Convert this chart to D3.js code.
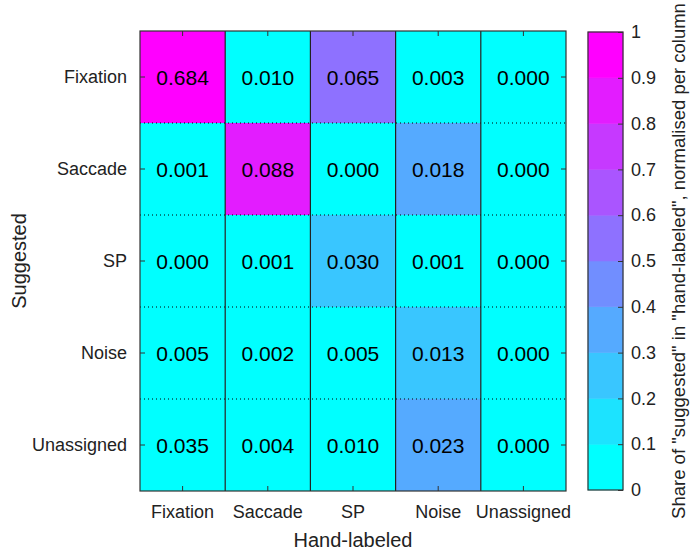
<!DOCTYPE html>
<html>
<head>
<meta charset="utf-8">
<script src="https://cdn.jsdelivr.net/npm/d3@7"></script>
<style>
  html, body { margin: 0; padding: 0; background: #fff; }
  svg { display: block; font-family: "Liberation Sans", Arial, Helvetica, sans-serif; }
</style>
</head>
<body>
<svg id="chart" width="691" height="551"></svg>
<script>
// Category names (same for both axes)
const categories = ["Fixation", "Saccade", "SP", "Noise", "Unassigned"];
// Rows = suggested class, columns = hand-labeled class
const fixationRow   = [0.684, 0.010, 0.065, 0.003, 0.000];
const saccadeRow    = [0.001, 0.088, 0.000, 0.018, 0.000];
const spRow         = [0.000, 0.001, 0.030, 0.001, 0.000];
const noiseRow      = [0.005, 0.002, 0.005, 0.013, 0.000];
const unassignedRow = [0.035, 0.004, 0.010, 0.023, 0.000];
const matrix = [fixationRow, saccadeRow, spRow, noiseRow, unassignedRow];
const colorbarTicks = [0, 0.1, 0.2, 0.3, 0.4, 0.5, 0.6, 0.7, 0.8, 0.9, 1];

const xTitle = "Hand-labeled";
const yTitle = "Suggested";
const cbTitle = 'Share of "suggested" in "hand-labeled", normalised per column';

const svg = d3.select("#chart");
const plot = { left: 140, top: 31, right: 566, bottom: 491 };
const cb = { left: 588, right: 623, top: 32, bottom: 490 };

const x = d3.scaleBand().domain(categories).range([plot.left, plot.right]);
const y = d3.scaleBand().domain(categories).range([plot.top, plot.bottom]);

// 10-step palette from cyan to magenta
const nLevels = 10;
const palette = d3.range(nLevels).map(i => d3.interpolateRgb("#00ffff", "#ff00ff")(i / (nLevels - 1)));
const color = d3.scaleQuantize().domain([0, 1]).range(palette);

// normalise each cell by its column total
const colSums = categories.map((_, j) => d3.sum(matrix, r => r[j]));
const cells = [];
matrix.forEach((row, i) => row.forEach((v, j) => {
  cells.push({ row: categories[i], col: categories[j], v, share: colSums[j] > 0 ? v / colSums[j] : 0 });
}));

// cells
svg.append("g").selectAll("rect").data(cells).join("rect")
  .attr("x", d => x(d.col)).attr("y", d => y(d.row))
  .attr("width", x.bandwidth()).attr("height", y.bandwidth())
  .attr("fill", d => color(Math.min(d.share, 0.9999)));

// horizontal dotted separators between rows
svg.append("g").selectAll("line").data(categories.slice(1)).join("line")
  .attr("x1", plot.left).attr("x2", plot.right)
  .attr("y1", d => y(d)).attr("y2", d => y(d))
  .attr("stroke", "#000").attr("stroke-width", 1).attr("stroke-dasharray", "1,3");

// vertical solid separators between columns
svg.append("g").selectAll("line").data(categories.slice(1)).join("line")
  .attr("y1", plot.top).attr("y2", plot.bottom)
  .attr("x1", d => x(d)).attr("x2", d => x(d))
  .attr("stroke", "#222").attr("stroke-width", 1.2);

// cell values
svg.append("g").selectAll("text").data(cells).join("text")
  .attr("x", d => x(d.col) + x.bandwidth() / 2)
  .attr("y", d => y(d.row) + y.bandwidth() / 2)
  .attr("text-anchor", "middle").attr("dominant-baseline", "central")
  .attr("font-size", 21).attr("fill", "#000")
  .text(d => d3.format(".3f")(d.v));

// axes with short inward ticks
function styleAxis(g) {
  g.select(".domain").remove();
  g.selectAll(".tick line").attr("stroke", "#333");
  g.selectAll(".tick text").attr("font-size", 18).attr("fill", "#222");
}
svg.append("g").attr("transform", `translate(0,${plot.bottom})`)
  .call(d3.axisBottom(x).tickSize(-5).tickPadding(14)).call(styleAxis);
svg.append("g").attr("transform", `translate(0,${plot.top})`)
  .call(d3.axisTop(x).tickSize(-5).tickFormat("")).call(styleAxis);
svg.append("g").attr("transform", `translate(${plot.left},0)`)
  .call(d3.axisLeft(y).tickSize(-5).tickPadding(13)).call(styleAxis);
svg.append("g").attr("transform", `translate(${plot.right},0)`)
  .call(d3.axisRight(y).tickSize(-5).tickFormat("")).call(styleAxis);

// plot border
svg.append("rect")
  .attr("x", plot.left).attr("y", plot.top)
  .attr("width", plot.right - plot.left).attr("height", plot.bottom - plot.top)
  .attr("fill", "none").attr("stroke", "#333").attr("stroke-width", 1.2);

// axis titles
svg.append("text").attr("x", (plot.left + plot.right) / 2).attr("y", 547)
  .attr("text-anchor", "middle").attr("font-size", 20).attr("fill", "#222").text(xTitle);
svg.append("text").attr("transform", `translate(26,${(plot.top + plot.bottom) / 2}) rotate(-90)`)
  .attr("text-anchor", "middle").attr("font-size", 20).attr("fill", "#222").text(yTitle);

// colour bar
const cbScale = d3.scaleLinear().domain([0, 1]).range([cb.bottom, cb.top]);
const bins = palette.map((c, i) => ({ c, lo: i / nLevels, hi: (i + 1) / nLevels }));
svg.append("g").selectAll("rect").data(bins).join("rect")
  .attr("x", cb.left).attr("width", cb.right - cb.left)
  .attr("y", d => cbScale(d.hi)).attr("height", d => cbScale(d.lo) - cbScale(d.hi))
  .attr("fill", d => d.c).attr("stroke", d => d.c).attr("stroke-width", 0.5);
svg.append("rect")
  .attr("x", cb.left).attr("y", cb.top)
  .attr("width", cb.right - cb.left).attr("height", cb.bottom - cb.top)
  .attr("fill", "none").attr("stroke", "#333").attr("stroke-width", 1.2);
svg.append("g").attr("transform", `translate(${cb.right},0)`)
  .call(d3.axisRight(cbScale).tickValues(colorbarTicks).tickSize(-5).tickPadding(8)
    .tickFormat(d => d3.format("")(d)))
  .call(styleAxis);
svg.append("text").attr("transform", `translate(685,${(cb.top + cb.bottom) / 2}) rotate(-90)`)
  .attr("text-anchor", "middle").attr("font-size", 18.5).attr("fill", "#222").text(cbTitle);
</script>
</body>
</html>
